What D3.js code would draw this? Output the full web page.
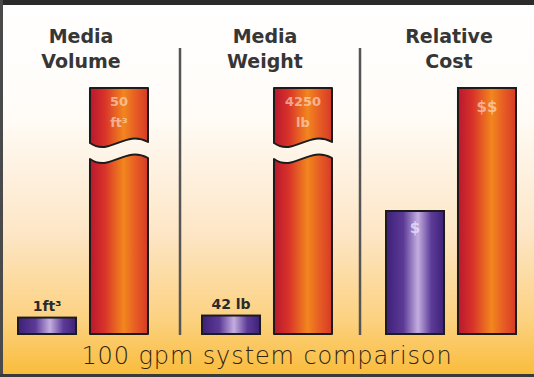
<!DOCTYPE html>
<html>
<head>
<meta charset="utf-8">
<script src="https://cdnjs.cloudflare.com/ajax/libs/d3/7.8.5/d3.min.js"></script>
<style>
    body { margin: 0; padding: 0; background: #fff; }
    svg { display: block; }
</style>
</head>
<body>
<div id="chart"></div>
<script>
//data
var panels = ["Media Volume", "Media Weight", "Relative Cost"];
var titleLines = [["Media", "Volume"], ["Media", "Weight"], ["Relative", "Cost"]];
var smallValues = [1, 42, 1];
var largeValues = [50, 4250, 2];
var axisMax = [15, 560, 2];
var smallLabels = [["1ft³"], ["42 lb"], ["$"]];
var largeLabels = [["50", "ft³"], ["4250", "lb"], ["$$"]];
var brokenBars = [true, true, false];
var footerText = "100 gpm system comparison";

var width = 534, height = 377;
var baseY = 334, topY = 88;

var svg = d3.select("#chart").append("svg")
    .attr("width", width)
    .attr("height", height);

var defs = svg.append("defs");

var bg = defs.append("linearGradient")
    .attr("id", "bgGrad")
    .attr("x1", 0).attr("y1", 0).attr("x2", 0).attr("y2", 1);
bg.append("stop").attr("offset", "0%").attr("stop-color", "#ffffff");
bg.append("stop").attr("offset", "30%").attr("stop-color", "#fffcf8");
bg.append("stop").attr("offset", "62%").attr("stop-color", "#fde6c6");
bg.append("stop").attr("offset", "85%").attr("stop-color", "#fcd180");
bg.append("stop").attr("offset", "100%").attr("stop-color", "#f9bb38");

var redGrad = defs.append("linearGradient")
    .attr("id", "redGrad")
    .attr("x1", 0).attr("y1", 0).attr("x2", 1).attr("y2", 0);
redGrad.append("stop").attr("offset", "0%").attr("stop-color", "#b8182e");
redGrad.append("stop").attr("offset", "25%").attr("stop-color", "#d8322a");
redGrad.append("stop").attr("offset", "58%").attr("stop-color", "#f2861e");
redGrad.append("stop").attr("offset", "80%").attr("stop-color", "#e65a24");
redGrad.append("stop").attr("offset", "100%").attr("stop-color", "#d63a26");

var purpleGrad = defs.append("linearGradient")
    .attr("id", "purpleGrad")
    .attr("x1", 0).attr("y1", 0).attr("x2", 1).attr("y2", 0);
purpleGrad.append("stop").attr("offset", "0%").attr("stop-color", "#3e2078");
purpleGrad.append("stop").attr("offset", "30%").attr("stop-color", "#5a3a96");
purpleGrad.append("stop").attr("offset", "55%").attr("stop-color", "#c4aee0");
purpleGrad.append("stop").attr("offset", "78%").attr("stop-color", "#5c3c98");
purpleGrad.append("stop").attr("offset", "100%").attr("stop-color", "#3e2078");

//background + frame
svg.append("rect")
    .attr("width", width)
    .attr("height", height)
    .attr("fill", "url(#bgGrad)");
svg.append("rect").attr("x", 0).attr("y", 0).attr("width", width).attr("height", 5).attr("fill", "#2b2b2b");
svg.append("rect").attr("x", 0).attr("y", 0).attr("width", 3).attr("height", height).attr("fill", "#4a4a4a");
svg.append("rect").attr("x", 0).attr("y", 374).attr("width", width).attr("height", 3).attr("fill", "#3a3a3a");

//scales
var x0 = d3.scaleBand()
    .domain(panels)
    .range([18, 516])
    .paddingInner(0.2935)
    .paddingOuter(0);

var x1 = d3.scaleBand()
    .domain(["small", "large"])
    .range([0, x0.bandwidth()])
    .paddingInner(0.194)
    .paddingOuter(0);

var yScales = panels.map(function (p, i) {
    return d3.scaleLinear()
        .domain([0, axisMax[i]])
        .range([baseY, topY])
        .clamp(true);
});

//dividers between panels, a bit right of the gap's middle
svg.selectAll(".divider")
    .data(panels.slice(1))
    .enter()
    .append("line")
    .classed("divider", true)
    .attr("x1", function (d, i) { return x0(d) - 22 - i * 4; })
    .attr("x2", function (d, i) { return x0(d) - 22 - i * 4; })
    .attr("y1", 48)
    .attr("y2", baseY + 1)
    .attr("stroke", "#555")
    .attr("stroke-width", 2.5);

var panelG = svg.selectAll(".panel")
    .data(panels)
    .enter()
    .append("g")
    .classed("panel", true)
    .attr("transform", function (d) { return "translate(" + x0(d) + ",0)"; });

//titles
panelG.append("text")
    .attr("x", x0.bandwidth() / 2 - 2)
    .attr("text-anchor", "middle")
    .attr("font-family", "'DejaVu Sans', sans-serif")
    .attr("font-weight", "bold")
    .attr("font-size", 19)
    .attr("fill", "#363636")
    .selectAll("tspan")
    .data(function (d, i) { return titleLines[i]; })
    .enter()
    .append("tspan")
    .attr("x", x0.bandwidth() / 2 - 2)
    .attr("y", function (d, j) { return 43 + j * 25; })
    .text(function (d) { return d; });

//wavy break edge, left to right
function wave(a, b, c) {
    var w = b - a;
    return "C" + (a + 0.35 * w) + "," + (c + 14) + " " + (a + 0.6 * w) + "," + (c - 14) + " " + b + "," + (c - 1);
}

panelG.each(function (p, i) {
    var g = d3.select(this);
    var y = yScales[i];

    //small purple bar
    var sx = x1("small"), sw = x1.bandwidth();
    var sTop = y(smallValues[i]);
    g.append("rect")
        .attr("x", sx)
        .attr("y", sTop)
        .attr("width", sw)
        .attr("height", baseY - sTop)
        .attr("fill", "url(#purpleGrad)")
        .attr("stroke", "#1c1c1c")
        .attr("stroke-width", 2);

    //large red bar
    var lx = x1("large"), lw = x1.bandwidth();
    var lTop = y(largeValues[i]);
    if (brokenBars[i]) {
        var c1 = lTop + 55, c2 = lTop + 71;
        //upper piece: wave, right side up, across the top
        g.append("path")
            .attr("d", "M" + lx + "," + c1 + wave(lx, lx + lw, c1) + "L" + (lx + lw) + "," + lTop +
                "L" + lx + "," + lTop + "Z")
            .attr("fill", "url(#redGrad)")
            .attr("stroke", "#1c1c1c")
            .attr("stroke-width", 2)
            .attr("stroke-linejoin", "round");
        //lower piece
        g.append("path")
            .attr("d", "M" + lx + "," + c2 + wave(lx, lx + lw, c2) + "L" + (lx + lw) + "," + baseY +
                "L" + lx + "," + baseY + "Z")
            .attr("fill", "url(#redGrad)")
            .attr("stroke", "#1c1c1c")
            .attr("stroke-width", 2)
            .attr("stroke-linejoin", "round");
    }
    else {
        g.append("rect")
            .attr("x", lx)
            .attr("y", lTop)
            .attr("width", lw)
            .attr("height", baseY - lTop)
            .attr("fill", "url(#redGrad)")
            .attr("stroke", "#1c1c1c")
            .attr("stroke-width", 2);
    }

    //value labels inside the red bars (faded white)
    var big = largeLabels[i];
    g.selectAll(".biglabel")
        .data(big)
        .enter()
        .append("text")
        .classed("biglabel", true)
        .attr("x", lx + lw / 2)
        .attr("y", function (d, j) { return big.length > 1 ? lTop + 18 + j * 21 : lTop + 24; })
        .attr("text-anchor", "middle")
        .attr("font-family", "'DejaVu Sans', sans-serif")
        .attr("font-weight", "bold")
        .attr("font-size", big.length > 1 ? 13 : 15)
        .attr("fill", "#ffe6dc")
        .attr("fill-opacity", 0.6)
        .text(function (d) { return d; });

    //small labels: above the bar when it is short, inside otherwise
    var inside = (baseY - sTop) > 40;
    g.append("text")
        .attr("x", sx + sw / 2)
        .attr("y", inside ? sTop + 22 : sTop - 7)
        .attr("text-anchor", "middle")
        .attr("font-family", "'DejaVu Sans', sans-serif")
        .attr("font-weight", "bold")
        .attr("font-size", inside ? 15 : 14)
        .attr("fill", inside ? "#f0e0ff" : "#2a2a2a")
        .attr("fill-opacity", inside ? 0.8 : 1)
        .text(smallLabels[i][0]);
});

//footer caption
svg.append("text")
    .attr("x", 267)
    .attr("y", 364)
    .attr("text-anchor", "middle")
    .attr("font-family", "'DejaVu Sans', sans-serif")
    .attr("font-weight", 200)
    .attr("font-size", 24)
    .attr("letter-spacing", 0.9)
    .attr("fill", "#2e2414")
    .text(footerText);
</script>
</body>
</html>
